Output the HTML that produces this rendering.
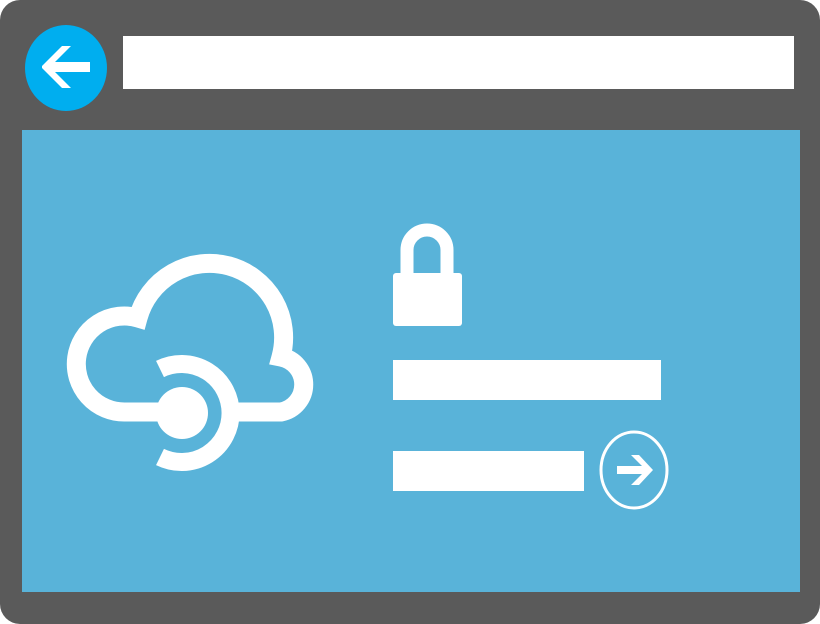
<!DOCTYPE html>
<html><head><style>html,body{margin:0;padding:0;background:#fff;}svg{display:block}</style></head>
<body>
<svg width="820" height="624" viewBox="0 0 820 624" xmlns="http://www.w3.org/2000/svg">
<rect x="0" y="0" width="820" height="624" rx="20" fill="#5a5a5a"/>
<rect x="22" y="130" width="778" height="462" fill="#59b3d9"/>
<rect x="123" y="36" width="671" height="53" fill="#fff"/>
<ellipse cx="66" cy="68" rx="41" ry="43" fill="#00aeef"/>
<polygon points="42,66 62,46 71,46 55,62 90,62 90,72 55,72 71,88 62,88 42,68" fill="#fff"/>
<!-- cloud -->
<path d="M 160 412 L 125 412 A 48 48 0 1 1 138 318 A 72 72 0 1 1 281 357 A 28 28 0 0 1 281 412 L 235 412" fill="none" stroke="#fff" stroke-width="19"/>
<path d="M 160 369 A 49 49 0 1 1 160 457" fill="none" stroke="#fff" stroke-width="18"/>
<circle cx="182" cy="413" r="26" fill="#fff"/>
<!-- lock -->
<path d="M 407 275 L 407 250 A 20 20 0 0 1 447 250 L 447 275" fill="none" stroke="#fff" stroke-width="13"/>
<rect x="393" y="273" width="69" height="53" rx="3" fill="#fff"/>
<rect x="393" y="360" width="268" height="40" fill="#fff"/>
<rect x="393" y="451" width="191" height="40" fill="#fff"/>
<ellipse cx="634" cy="470" rx="33" ry="38" fill="none" stroke="#fff" stroke-width="3"/>
<polygon points="617,466 642,466 631,455 639,455 653,470 639,485 631,485 642,474 617,474" fill="#fff"/>
</svg>
</body></html>
